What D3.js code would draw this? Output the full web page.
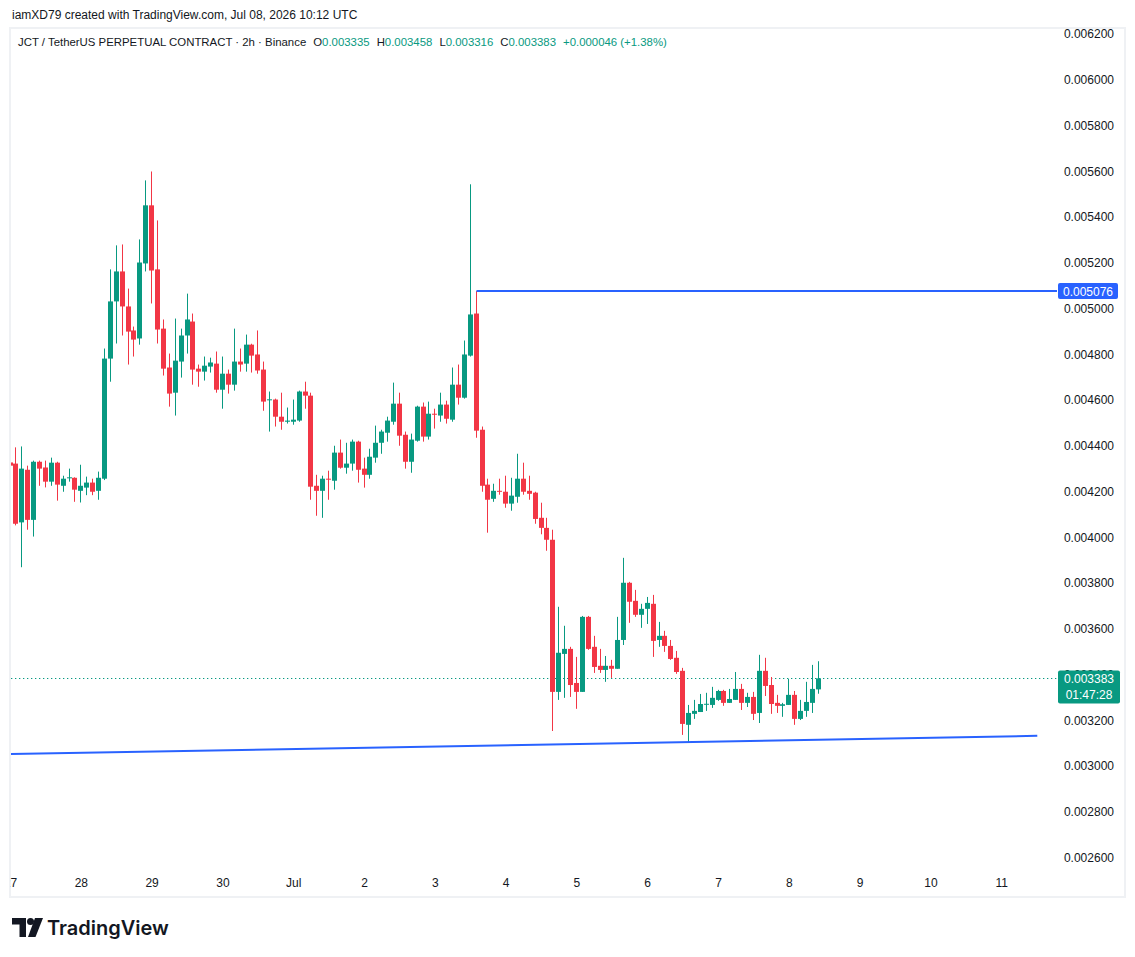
<!DOCTYPE html>
<html>
<head>
<meta charset="utf-8">
<script src="https://cdn.jsdelivr.net/npm/d3@7"></script>
<style>
  body { margin: 0; background: #fff; }
  svg { display: block; font-family: "Liberation Sans", Arial, sans-serif; }
</style>
</head>
<body>
<svg></svg>
<script>
// 2h candles, index 0 = Jun 27 00:00 UTC
const opens = [
  0.004327, 0.004322, 0.004065, 0.004295, 0.004076, 0.004330, 0.004305, 0.004243, 0.004326, 0.004225,
  0.004260, 0.004260, 0.004203, 0.004217, 0.004239, 0.004203, 0.004256, 0.004781, 0.005031, 0.005162,
  0.005009, 0.004904, 0.004869, 0.005197, 0.005451, 0.005171, 0.004912, 0.004742, 0.004632, 0.004768,
  0.004882, 0.004943, 0.004737, 0.004724, 0.004746, 0.004759, 0.004645, 0.004715, 0.004667, 0.004768,
  0.004759, 0.004842, 0.004799, 0.004733, 0.004600, 0.004602, 0.004527, 0.004505, 0.004505, 0.004510,
  0.004637, 0.004619, 0.004225, 0.004203, 0.004256, 0.004247, 0.004370, 0.004304, 0.004322, 0.004418,
  0.004300, 0.004273, 0.004348, 0.004413, 0.004457, 0.004505, 0.004584, 0.004448, 0.004330, 0.004422,
  0.004571, 0.004440, 0.004540, 0.004532, 0.004580, 0.004514, 0.004667, 0.004610, 0.004794, 0.004978,
  0.004470, 0.004230, 0.004168, 0.004203, 0.004199, 0.004147, 0.004177, 0.004256, 0.004203, 0.004195,
  0.004085, 0.004041, 0.003989, 0.003324, 0.003490, 0.003512, 0.003363, 0.003324, 0.003652, 0.003521,
  0.003438, 0.003420, 0.003438, 0.003425, 0.003551, 0.003801, 0.003722, 0.003661, 0.003687, 0.003709,
  0.003551, 0.003569, 0.003525, 0.003473, 0.003416, 0.003180, 0.003228, 0.003236, 0.003271, 0.003267,
  0.003289, 0.003328, 0.003276, 0.003289, 0.003337, 0.003276, 0.003302, 0.003232, 0.003416, 0.003354,
  0.003276, 0.003263, 0.003267, 0.003311, 0.003206, 0.003241, 0.003276, 0.003335
];
const highs = [
  0.004330, 0.004393, 0.004397, 0.004313, 0.004335, 0.004335, 0.004335, 0.004348, 0.004330, 0.004269,
  0.004300, 0.004262, 0.004317, 0.004265, 0.004256, 0.004287, 0.004825, 0.005171, 0.005276, 0.005280,
  0.005087, 0.004921, 0.005302, 0.005560, 0.005599, 0.005385, 0.004952, 0.004803, 0.004956, 0.004912,
  0.005065, 0.004978, 0.004755, 0.004790, 0.004785, 0.004812, 0.004790, 0.004733, 0.004912, 0.004825,
  0.004886, 0.004846, 0.004904, 0.004768, 0.004637, 0.004606, 0.004632, 0.004567, 0.004602, 0.004641,
  0.004680, 0.004632, 0.004273, 0.004269, 0.004291, 0.004400, 0.004427, 0.004413, 0.004427, 0.004422,
  0.004348, 0.004387, 0.004488, 0.004470, 0.004527, 0.004676, 0.004632, 0.004462, 0.004453, 0.004575,
  0.004589, 0.004593, 0.004562, 0.004632, 0.004597, 0.004742, 0.004755, 0.004860, 0.005543, 0.005076,
  0.004484, 0.004256, 0.004234, 0.004256, 0.004269, 0.004260, 0.004365, 0.004326, 0.004269, 0.004199,
  0.004151, 0.004085, 0.004033, 0.003696, 0.003613, 0.003521, 0.003477, 0.003656, 0.003656, 0.003569,
  0.003512, 0.003481, 0.003464, 0.003652, 0.003910, 0.003805, 0.003770, 0.003709, 0.003739, 0.003748,
  0.003630, 0.003591, 0.003551, 0.003503, 0.003429, 0.003267, 0.003289, 0.003315, 0.003320, 0.003346,
  0.003333, 0.003333, 0.003337, 0.003411, 0.003359, 0.003320, 0.003324, 0.003486, 0.003473, 0.003389,
  0.003311, 0.003276, 0.003381, 0.003328, 0.003289, 0.003368, 0.003442, 0.003458
];
const lows = [
  0.004310, 0.004052, 0.003869, 0.004033, 0.004003, 0.004225, 0.004218, 0.004225, 0.004160, 0.004199,
  0.004243, 0.004155, 0.004152, 0.004184, 0.004184, 0.004164, 0.004250, 0.004680, 0.004847, 0.004882,
  0.004755, 0.004790, 0.004842, 0.005162, 0.005022, 0.004847, 0.004707, 0.004571, 0.004532, 0.004698,
  0.004803, 0.004667, 0.004658, 0.004685, 0.004720, 0.004632, 0.004562, 0.004628, 0.004641, 0.004724,
  0.004724, 0.004720, 0.004715, 0.004553, 0.004462, 0.004484, 0.004470, 0.004497, 0.004492, 0.004505,
  0.004562, 0.004164, 0.004094, 0.004085, 0.004164, 0.004208, 0.004300, 0.004278, 0.004291, 0.004239,
  0.004217, 0.004256, 0.004326, 0.004365, 0.004418, 0.004492, 0.004400, 0.004300, 0.004282, 0.004418,
  0.004418, 0.004427, 0.004475, 0.004505, 0.004497, 0.004505, 0.004580, 0.004606, 0.004790, 0.004435,
  0.004199, 0.004020, 0.004155, 0.004186, 0.004129, 0.004116, 0.004151, 0.004186, 0.004164, 0.004059,
  0.004013, 0.003941, 0.003153, 0.003289, 0.003298, 0.003302, 0.003250, 0.003324, 0.003508, 0.003407,
  0.003407, 0.003368, 0.003385, 0.003425, 0.003529, 0.003626, 0.003652, 0.003604, 0.003621, 0.003477,
  0.003521, 0.003499, 0.003464, 0.003403, 0.003136, 0.003105, 0.003206, 0.003236, 0.003241, 0.003254,
  0.003285, 0.003263, 0.003276, 0.003289, 0.003245, 0.003258, 0.003201, 0.003188, 0.003306, 0.003228,
  0.003232, 0.003215, 0.003267, 0.003180, 0.003201, 0.003215, 0.003232, 0.003316
];
const closes = [
  0.004313, 0.004059, 0.004300, 0.004076, 0.004330, 0.004300, 0.004243, 0.004326, 0.004230, 0.004256,
  0.004262, 0.004208, 0.004225, 0.004239, 0.004199, 0.004260, 0.004781, 0.005031, 0.005162, 0.005009,
  0.004899, 0.004864, 0.005201, 0.005451, 0.005166, 0.004908, 0.004737, 0.004628, 0.004772, 0.004882,
  0.004952, 0.004733, 0.004724, 0.004750, 0.004764, 0.004645, 0.004715, 0.004667, 0.004768, 0.004755,
  0.004842, 0.004794, 0.004729, 0.004593, 0.004603, 0.004527, 0.004505, 0.004510, 0.004514, 0.004637,
  0.004619, 0.004221, 0.004203, 0.004256, 0.004253, 0.004370, 0.004304, 0.004322, 0.004418, 0.004295,
  0.004273, 0.004352, 0.004413, 0.004462, 0.004510, 0.004584, 0.004444, 0.004330, 0.004427, 0.004571,
  0.004440, 0.004540, 0.004536, 0.004580, 0.004518, 0.004667, 0.004610, 0.004799, 0.004974, 0.004466,
  0.004225, 0.004164, 0.004203, 0.004200, 0.004147, 0.004182, 0.004256, 0.004199, 0.004190, 0.004080,
  0.004041, 0.003989, 0.003324, 0.003495, 0.003512, 0.003354, 0.003324, 0.003652, 0.003512, 0.003433,
  0.003420, 0.003438, 0.003425, 0.003551, 0.003801, 0.003718, 0.003661, 0.003687, 0.003713, 0.003547,
  0.003569, 0.003525, 0.003468, 0.003411, 0.003184, 0.003232, 0.003241, 0.003271, 0.003272, 0.003298,
  0.003328, 0.003276, 0.003293, 0.003337, 0.003276, 0.003302, 0.003228, 0.003416, 0.003350, 0.003271,
  0.003263, 0.003270, 0.003311, 0.003206, 0.003241, 0.003280, 0.003337, 0.003383
];

const dayLabels = ["27", "28", "29", "30", "Jul", "2", "3", "4", "5", "6", "7", "8", "9", "10", "11"];
const dayIndex = [0, 12, 24, 36, 48, 60, 72, 84, 96, 108, 120, 132, 144, 156, 168];
const priceTicks = [0.0026, 0.0028, 0.003, 0.0032, 0.0034, 0.0036, 0.0038, 0.004, 0.0042,
  0.0044, 0.0046, 0.0048, 0.005, 0.0052, 0.0054, 0.0056, 0.0058, 0.006, 0.0062];

// drawings
const levelPrice = 0.005076;
const levelStart = 79;
const trendIdx = [0, 174.2];
const trendPrice = [0.003052, 0.003132];
const lastPrice = 0.003383;
const countdown = "01:47:28";

const green = "#089981", red = "#f23645", blue = "#2962ff", ink = "#131722";

const svg = d3.select("svg").attr("width", 1135).attr("height", 957);
svg.append("rect").attr("width", 1135).attr("height", 957).attr("fill", "#fff");

const plot = { left: 11, right: 1057, top: 29, bottom: 870 };

const x = d3.scaleLinear().domain([0, 174]).range([9.5, 9.5 + 174 * 5.9]);
const y = d3.scaleLinear().domain([0.0026, 0.0062]).range([857.5, 34]);

svg.append("defs").append("clipPath").attr("id", "clip")
  .append("rect")
  .attr("x", plot.left).attr("y", plot.top)
  .attr("width", plot.right - plot.left).attr("height", plot.bottom - plot.top);
svg.select("defs").append("clipPath").attr("id", "clipx")
  .append("rect")
  .attr("x", 10).attr("y", plot.bottom)
  .attr("width", plot.right - 10).attr("height", 26);

// outer frame
svg.append("rect")
  .attr("x", 10).attr("y", 28).attr("width", 1115).attr("height", 869)
  .attr("fill", "none").attr("stroke", "#eff1f4").attr("stroke-width", 2);

// header
svg.append("text").attr("x", 12).attr("y", 19)
  .attr("font-size", 12).attr("fill", ink)
  .text("iamXD79 created with TradingView.com, Jul 08, 2026 10:12 UTC");

const legend = svg.append("text").attr("x", 18).attr("y", 46)
  .attr("font-size", 11.4).attr("fill", ink);
legend.append("tspan").text("JCT / TetherUS PERPETUAL CONTRACT · 2h · Binance");
const n = opens.length - 1;
[["O", opens[n]], ["H", highs[n]], ["L", lows[n]], ["C", closes[n]]].forEach(([k, v]) => {
  legend.append("tspan").attr("dx", 7).text(k);
  legend.append("tspan").attr("fill", green).text(v.toFixed(6));
});
const chg = closes[n] - closes[n - 1];
legend.append("tspan").attr("dx", 7).attr("fill", green)
  .text("+" + chg.toFixed(6) + " (+" + (chg / closes[n - 1] * 100).toFixed(2) + "%)");

const graph = svg.append("g").attr("clip-path", "url(#clip)");

// current price dotted line
graph.append("line")
  .attr("x1", plot.left).attr("x2", plot.right)
  .attr("y1", Math.round(y(lastPrice)) + 0.5).attr("y2", Math.round(y(lastPrice)) + 0.5)
  .attr("stroke", green).attr("stroke-width", 1.2).attr("stroke-dasharray", "1.3,2.7");

const data = opens.map((o, i) => ({ i, o, h: highs[i], l: lows[i], c: closes[i] }));

const candles = graph.selectAll("g.candle").data(data).enter()
  .append("g").attr("class", "candle")
  .attr("fill", (d) => (d.c >= d.o ? green : red));

candles.append("rect")
  .attr("x", (d) => Math.round(x(d.i)))
  .attr("width", 1)
  .attr("y", (d) => y(d.h))
  .attr("height", (d) => Math.max(1, y(d.l) - y(d.h)));

candles.append("rect")
  .attr("x", (d) => Math.round(x(d.i)) - 2)
  .attr("width", 5)
  .attr("y", (d) => y(Math.max(d.o, d.c)))
  .attr("height", (d) => Math.max(1, Math.abs(y(d.o) - y(d.c))));

// horizontal level
graph.append("line")
  .attr("x1", Math.round(x(levelStart)) + 0.5).attr("x2", plot.right)
  .attr("y1", y(levelPrice)).attr("y2", y(levelPrice))
  .attr("stroke", blue).attr("stroke-width", 2);

// rising support line
graph.append("line")
  .attr("x1", x(trendIdx[0])).attr("x2", x(trendIdx[1]))
  .attr("y1", y(trendPrice[0])).attr("y2", y(trendPrice[1]))
  .attr("stroke", blue).attr("stroke-width", 2);

// price axis
const yAxis = d3.axisRight(y).tickValues(priceTicks).tickFormat(d3.format(".6f")).tickSize(0);
const yAxisGroup = svg.append("g")
  .attr("transform", `translate(${plot.right}, 0)`)
  .call(yAxis)
  .attr("font-family", "Liberation Sans, Arial, sans-serif")
  .attr("font-size", 12);
yAxisGroup.select(".domain").remove();
yAxisGroup.selectAll("text").attr("x", 57).attr("text-anchor", "end").attr("fill", ink);

// time axis
const xAxis = d3.axisBottom(x).tickValues(dayIndex).tickFormat((d, i) => dayLabels[i]).tickSize(0);
const xAxisGroup = svg.append("g")
  .attr("clip-path", "url(#clipx)")
  .append("g")
  .attr("transform", `translate(0.5, ${plot.bottom})`)
  .call(xAxis)
  .attr("font-family", "Liberation Sans, Arial, sans-serif")
  .attr("font-size", 12);
xAxisGroup.select(".domain").remove();
xAxisGroup.selectAll("text").attr("y", 8).attr("fill", ink);

// price labels on the axis
const lvY = y(levelPrice);
svg.append("rect").attr("x", 1058).attr("y", lvY - 8).attr("width", 60).attr("height", 16)
  .attr("rx", 2).attr("fill", blue);
svg.append("text").attr("x", 1088).attr("y", lvY + 4.5).attr("text-anchor", "middle")
  .attr("font-size", 12).attr("fill", "#fff").text(levelPrice.toFixed(6));

const lpY = y(lastPrice);
svg.append("rect").attr("x", 1058).attr("y", lpY - 8).attr("width", 62).attr("height", 33)
  .attr("rx", 2).attr("fill", green);
svg.append("text").attr("x", 1089).attr("y", lpY + 4.5).attr("text-anchor", "middle")
  .attr("font-size", 12).attr("fill", "#fff").text(lastPrice.toFixed(6));
svg.append("text").attr("x", 1089).attr("y", lpY + 20.5).attr("text-anchor", "middle")
  .attr("font-size", 12).attr("fill", "#fff").text(countdown);

// TradingView logo
const logo = svg.append("g").attr("fill", ink);
logo.append("path").attr("d", "M12,918 H26 V937 H19.5 V924.5 H12 Z");
logo.append("circle").attr("cx", 30.5).attr("cy", 921.5).attr("r", 3.5);
logo.append("path").attr("d", "M35,918 H43 L35.5,937 H28 Z");
svg.append("text").attr("x", 47).attr("y", 935)
  .attr("font-family", "Inter, 'Liberation Sans', sans-serif")
  .attr("font-size", 20).attr("font-weight", 600).attr("fill", ink)
  .text("TradingView");
</script>
</body>
</html>
